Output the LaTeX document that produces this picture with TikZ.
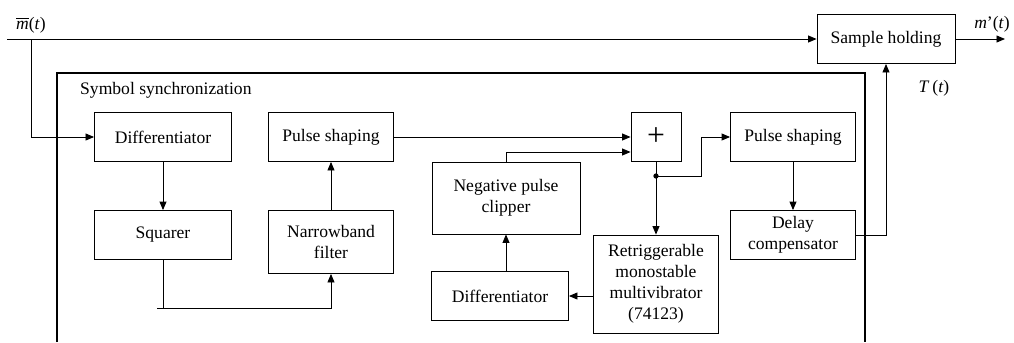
\documentclass[tikz,border=0pt]{standalone}
\usepackage{fontspec}
\setmainfont{Liberation Serif}
\usetikzlibrary{arrows.meta}

\begin{document}
\begin{tikzpicture}[x=0.2mm,y=-0.2mm,
    block/.style={draw,line width=0.5pt,inner sep=0pt,align=center,minimum height=9.8mm},
    link/.style={line width=0.5pt},
    >={Triangle[length=1.7mm,width=1.4mm]}]
    \useasboundingbox (0,0) rectangle (1014,342);

    % outer frame of the synchronizer
    \draw [line width=1.2pt] (57,342) -- (57,73) -- (865,73) -- (865,342);
    \node [anchor=west] (title) at (74,90) {Symbol synchronization};

    \node [block,minimum width=27.4mm] (diffA) at (163,137) {Differentiator};
    \node [block,minimum width=27.4mm] (squarer) at (163,235) {Squarer};
    \node [block,minimum width=25mm] (pulseA) at (331,137) {Pulse shaping};
    \node [block,minimum width=25mm,minimum height=12.6mm] (filter) at (331,242) {Narrowband\\filter};
    \node [block,minimum width=10mm] (adder) at (656,137) {\fontsize{18}{18}\selectfont +};
    \node [block,minimum width=29.6mm,minimum height=14.4mm] (clipper) at (506,198) {Negative pulse\\clipper};
    \node [block,minimum width=27.4mm] (diffB) at (500,296) {Differentiator};
    \node [block,minimum width=25mm,minimum height=19.6mm] (mono) at (656,284) {Retriggerable\\monostable\\multivibrator\\(74123)};
    \node [block,minimum width=25mm] (pulseB) at (793,137) {Pulse shaping};
    \node [block,minimum width=25mm] (delay) at (793,235) {Delay\\compensator};
    \node [block,minimum width=27.6mm] (hold) at (886,39) {Sample holding};

    \node (min) at (31,25) {$\overline{\textit{m}}$(\textit{t})};
    \node (mout) at (992,24) {\textit{m}'(\textit{t})};
    \node (tt) at (934,88) {\textit{T}\,(\textit{t})};

    \coordinate (in) at (7,39);
    \coordinate (tap) at (31,39);
    \coordinate (out) at (1005,39);
    \coordinate (sq) at (157,308);
    \coordinate (split) at (656,176);

    \draw [link,->] (in) -- (hold);
    \draw [link,->] (hold) -- (out);
    \draw [link,->] (tap) |- (diffA);
    \draw [link,->] (diffA) -- (squarer);
    \draw [link] (squarer) -- (squarer |- sq);
    \draw [link,->] (sq) -| (filter);
    \draw [link,->] (filter) -- (pulseA);
    \draw [link,->] (pulseA) -- (adder);
    \draw [link,->] (clipper.north) |- ([yshift=-3mm]adder.west);
    \draw [link,->] (adder) -- (mono);
    \fill (split) circle (1.5pt);
    \draw [link,->] (split) -- ++(45,0) |- (pulseB);
    \draw [link,->] (pulseB) -- (delay);
    \draw [link,->] (delay) -| (hold);
    \draw [link,->] (mono.west |- diffB) -- (diffB);
    \draw [link,->] (clipper.south |- diffB.north) -- (clipper.south);
\end{tikzpicture}
\end{document}
